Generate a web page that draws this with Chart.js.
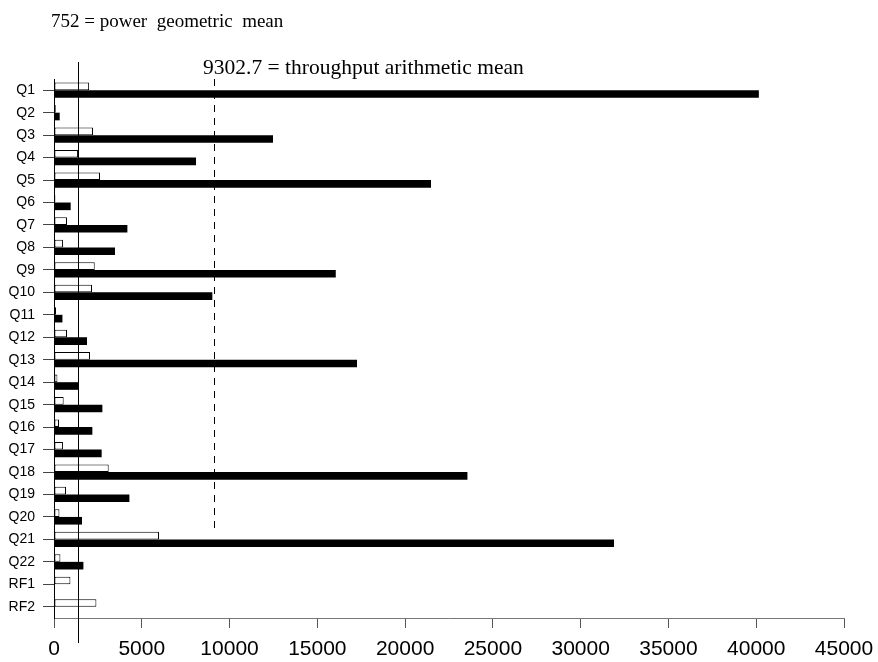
<!DOCTYPE html>
<html>
<head>
<meta charset="utf-8">
<script src="https://cdn.jsdelivr.net/npm/chart.js@4.4.0/dist/chart.umd.min.js"></script>
<style>
    body { margin: 0; background: #fff; }
    #wrap { width: 878px; height: 662px; }
</style>
</head>
<body>
<div id="wrap"><canvas id="chart" width="878" height="662"></canvas></div>
<script>
const queries = ["Q1","Q2","Q3","Q4","Q5","Q6","Q7","Q8","Q9","Q10","Q11","Q12","Q13","Q14","Q15","Q16","Q17","Q18","Q19","Q20","Q21","Q22","RF1","RF2"];
const power = [2000,100,2220,1370,2620,80,740,510,2320,2165,115,740,2050,195,550,285,510,3115,685,310,5980,365,935,2415];
const throughput = [40150,325,12475,8090,21475,950,4180,3475,16050,9020,480,1880,17260,1370,2755,2185,2715,23550,4295,1595,31900,1675,null,null];
const xTicks = [0,5000,10000,15000,20000,25000,30000,35000,40000,45000];

// reference lines as placed in the picture
const powerLine = 1350;
const throughputLine = 9100;
const powerText = "752 = power  geometric  mean";
const throughputText = "9302.7 = throughput arithmetic mean";

var meanLines = {
    id: "meanLines",
    afterDatasetsDraw: function (chart) {
        var ctx = chart.ctx;
        var x = chart.scales.x;
        var area = chart.chartArea;
        ctx.save();
        ctx.strokeStyle = "#000";
        ctx.lineWidth = 1;
        var px = Math.round(x.getPixelForValue(powerLine)) + 0.5;
        ctx.beginPath();
        ctx.moveTo(px, 62);
        ctx.lineTo(px, 643);
        ctx.stroke();

        var dx = Math.round(x.getPixelForValue(throughputLine)) + 0.5;
        ctx.setLineDash([7, 6]);
        ctx.beginPath();
        ctx.moveTo(dx, area.top);
        ctx.lineTo(dx, 534);
        ctx.stroke();
        ctx.setLineDash([]);

        ctx.fillStyle = "#000";
        ctx.textBaseline = "alphabetic";
        ctx.font = "19px 'Liberation Serif', 'Times New Roman', serif";
        ctx.fillText(powerText, 51, 27);
        ctx.font = "21.5px 'Liberation Serif', 'Times New Roman', serif";
        ctx.fillText(throughputText, 203, 74);
        ctx.restore();
    }
};

var ctx = document.getElementById("chart").getContext("2d");
var myChart = new Chart(ctx, {
    type: "bar",
    data: {
        labels: queries,
        datasets: [
            {
                label: "power",
                data: power,
                backgroundColor: "#fff",
                borderColor: "#000",
                borderWidth: 1,
                borderSkipped: false,
            },
            {
                label: "throughput",
                data: throughput,
                backgroundColor: "#000",
                borderWidth: 0,
            },
        ],
    },
    options: {
        indexAxis: "y",
        responsive: false,
        animation: false,
        categoryPercentage: 0.68,
        barPercentage: 1.0,
        layout: { padding: { top: 79, right: 34, left: 0, bottom: 0 } },
        plugins: {
            legend: { display: false },
            tooltip: { enabled: false },
        },
        scales: {
            x: {
                min: 0,
                max: 45000,
                afterBuildTicks: function (scale) {
                    scale.ticks = xTicks.map(function (v) { return { value: v }; });
                },
                afterFit: function (scale) {
                    scale.height = 44;
                    scale.paddingLeft = 0;
                    scale.paddingRight = 0;
                },
                grid: {
                    drawOnChartArea: false,
                    drawTicks: true,
                    tickLength: 10,
                    color: "#555",
                },
                border: { color: "#777", width: 1 },
                ticks: {
                    color: "#000",
                    padding: 9,
                    font: { family: "Arial, 'Liberation Sans'", size: 21 },
                    callback: function (v) { return String(v); },
                },
            },
            y: {
                afterFit: function (scale) { scale.width = 54; },
                grid: {
                    offset: false,
                    drawOnChartArea: false,
                    tickLength: 11,
                    color: "#444",
                },
                border: { color: "#000", width: 1 },
                ticks: {
                    color: "#000",
                    padding: 8,
                    autoSkip: false,
                    font: { family: "Arial, 'Liberation Sans'", size: 14 },
                },
            },
        },
    },
    plugins: [meanLines],
});
</script>
</body>
</html>
